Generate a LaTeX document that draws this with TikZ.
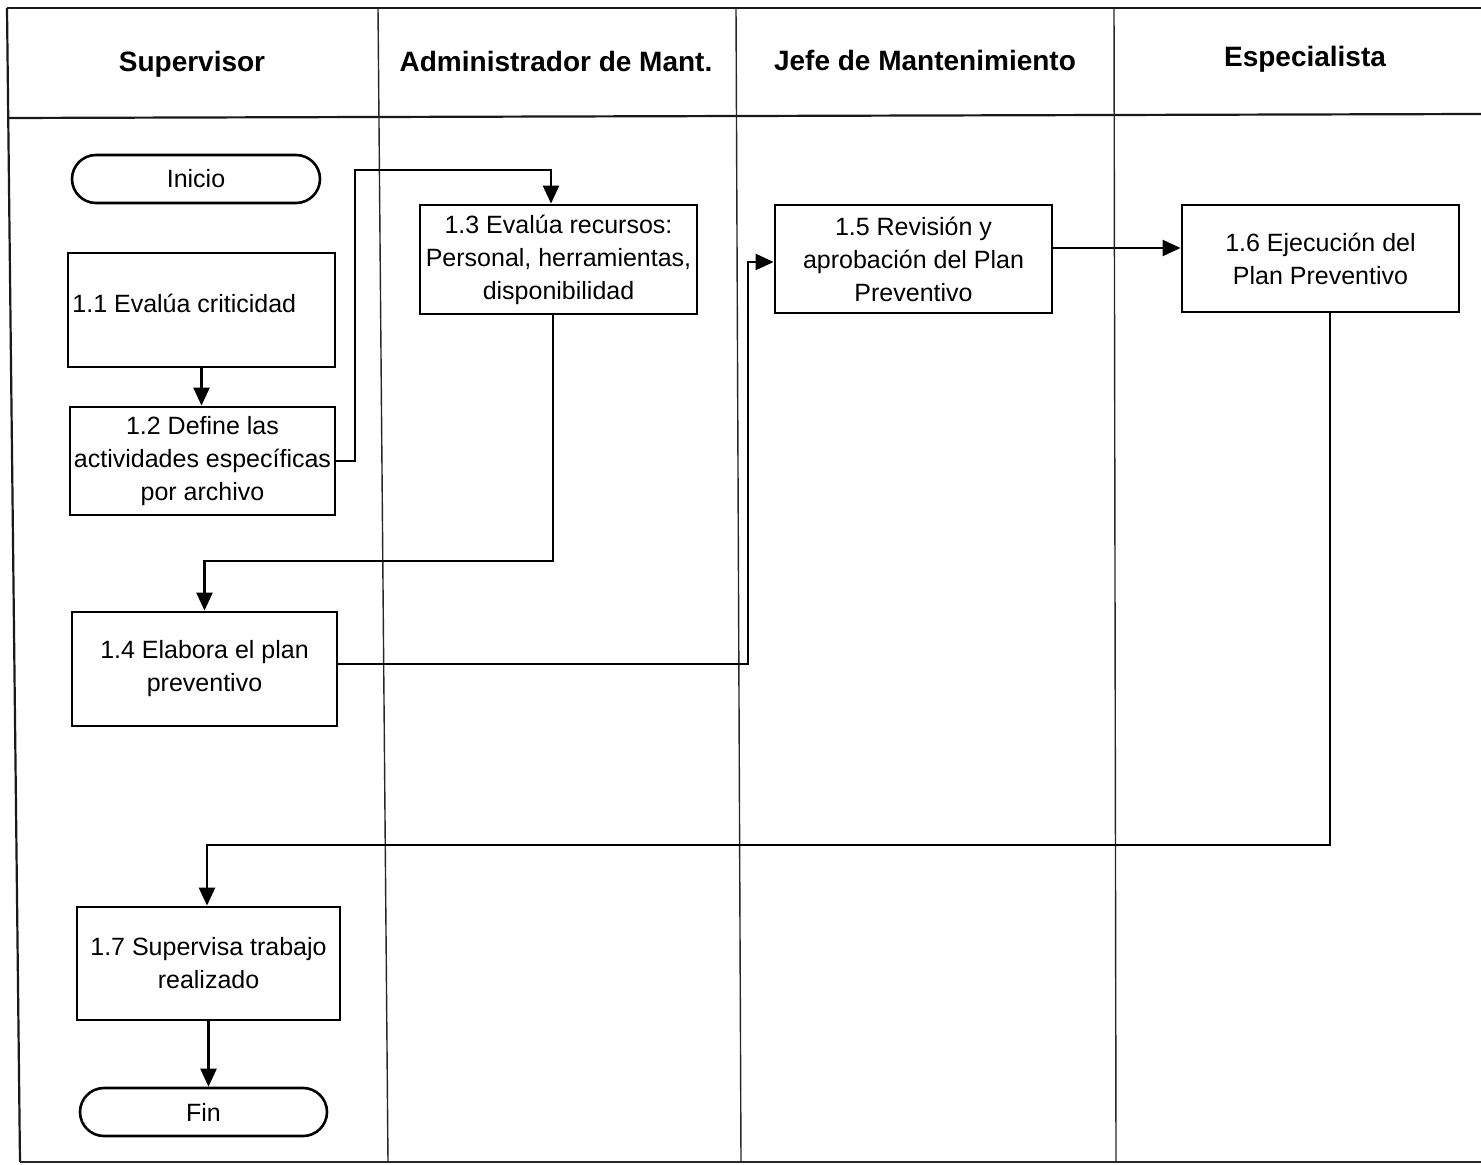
\documentclass[tikz,border=0pt]{standalone}
\usepackage{fontspec}
\setmainfont{Liberation Sans}
\usetikzlibrary{arrows.meta}
\begin{document}
\begin{tikzpicture}[x=0.5pt,y=-0.5pt,
  lane/.style={line width=0.7pt,draw=black!85},
  frame/.style={line width=1.1pt,draw=black!90},
  head/.style={font=\fontsize{14}{16}\selectfont\bfseries},
  txt/.style={font=\fontsize{12.5}{16.5}\selectfont},
  stepbox/.style={draw,line width=1.4pt,rectangle,align=center,inner sep=2pt,txt},
  term/.style={draw,line width=1.3pt,rectangle,rounded corners=12pt,
    minimum width=124pt,minimum height=24pt,inner sep=0pt,txt},
  flow/.style={line width=1.2pt,-{Triangle[length=9pt,width=8pt]}}]
\useasboundingbox (0,0) rectangle (1481,1165);

% swimlane frame
\draw[frame] (7,8) -- (1481,8);
\draw[frame] (7,8) -- (20,1162);
\draw[lane] (20,1162) -- (1481,1162);
\draw[frame] (8,118) -- (1481,114);
\draw[lane] (378,8) -- (388,1162);
\draw[lane] (736,8) -- (741,1162);
\draw[lane] (1114,8) -- (1116,1162);

% lane titles
\node[head] (hsup) at (192,64) {Supervisor};
\node[head] (hadm) at (556,61) {Administrador de Mant.};
\node[head] (hjef) at (925,60) {Jefe de Mantenimiento};
\node[head] (hesp) at (1305,59) {Especialista};

% activities
\node[term] (ini) at (196,179) {Inicio};
\node[stepbox,minimum width=133.5pt,minimum height=57pt] (n11) at (201.5,310) {};
\node[txt,anchor=west,inner sep=0pt] (n11t) at (72,303) {1.1 Evalúa criticidad};
\node[stepbox,minimum width=132.5pt,minimum height=54pt]
  (n12) at (202.5,461) {1.2 Define las\\actividades específicas\\por archivo};
\node[stepbox,minimum width=138.5pt,minimum height=54.5pt]
  (n13) at (558.5,259.5) {1.3 Evalúa recursos:\\Personal, herramientas,\\disponibilidad};
\node[stepbox,minimum width=138.5pt,minimum height=54pt]
  (n15) at (913.5,259) {1.5 Revisión y\\aprobación del Plan\\Preventivo};
\node[stepbox,minimum width=138.5pt,minimum height=53.5pt]
  (n16) at (1320.5,258.5) {1.6 Ejecución del\\Plan Preventivo};
\node[stepbox,minimum width=132.5pt,minimum height=57pt]
  (n14) at (204.5,669) {1.4 Elabora el plan\\preventivo};
\node[stepbox,minimum width=131.5pt,minimum height=56.5pt]
  (n17) at (208.5,963.5) {1.7 Supervisa trabajo\\realizado};
\node[term,minimum width=123.5pt] (fin) at (203.5,1112) {Fin};

% bend points of the connectors
\coordinate (b12) at (355,170);
\coordinate (b13) at (204.5,561);
\coordinate (b14) at (748,664);
\coordinate (b16) at (207,845);

% connectors
\draw[flow] (n11.south) -- (n11.south |- n12.north);
\draw[flow] (n12.east) -| (b12) -| ([xshift=-3.75pt]n13.north);
\draw[flow] ([xshift=-2.75pt]n13.south) |- (b13) -- (n14.north);
\draw[flow] (n14.east |- b14) -- (b14) |- ([yshift=-1.5pt]n15.west);
\draw[flow] ([yshift=5.5pt]n15.east) -- ([yshift=5.5pt]n15.east -| n16.west);
\draw[flow] ([xshift=4.75pt]n16.south) |- (b16) -- (b16 |- n17.north);
\draw[flow] (n17.south) -- (n17.south |- fin.north);
\end{tikzpicture}
\end{document}
